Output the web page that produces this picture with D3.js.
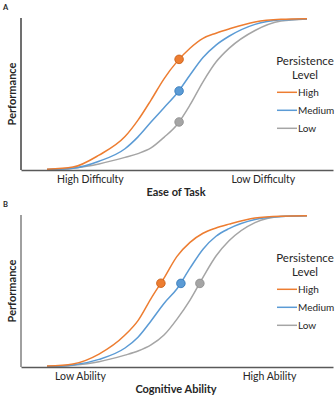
<!DOCTYPE html>
<html>
<head>
<meta charset="utf-8">
<script src="https://d3js.org/d3.v7.min.js"></script>
<style>
  body { margin: 0; background: #fff; }
  text { font-family: Lato, "Open Sans", sans-serif; fill: #262626; }
</style>
</head>
<body>
<div id="chart"></div>
<script>
// shared x positions (arbitrary units along the x axis, 0-120)
const xs = [10, 20, 30, 40, 45, 50, 55, 60, 65, 70, 75, 80, 90, 100, 110];

// Panel A - Ease of Task
const aHigh   = [0.5, 1.9, 9.8, 22, 32.8, 46, 60, 71.3, 80.1, 86.6, 90, 92.8, 97.4, 99.1, 99.5];
const aMedium = [0.3, 1.2, 5.8, 14, 21.8, 31.5, 41, 50.5, 62.5, 74, 82.2, 88, 95.8, 98.8, 99.4];
const aLow    = [0.3, 1.2, 4, 8.3, 10.8, 14.5, 21.5, 29.8, 42.8, 58, 71, 80, 91.8, 98, 99.4];
const aMarkX  = [60.8, 60.8, 60.8];
const aMarkY  = [72.8, 52, 31.6];
const aTicks  = [26.5, 93];
const aTickLabels = ["High Difficulty", "Low Difficulty"];

// Panel B - Cognitive Ability
const bHigh   = [0.6, 2, 8.5, 21, 30.5, 45, 58.5, 72.8, 82, 88, 91.5, 94, 98, 99.2, 99.5];
const bMedium = [0.3, 1.3, 5, 12.5, 19.6, 30.3, 41.8, 51.5, 65, 77.5, 86, 91, 97, 99, 99.5];
const bLow    = [0.3, 1.2, 3.5, 7.8, 10.5, 14.5, 21, 31.5, 44, 59, 73, 83, 95, 99, 99.5];
const bMarkX  = [53.8, 61.5, 68.8];
const bMarkY  = [55.1, 55, 55];
const bTicks  = [22.7, 95.4];
const bTickLabels = ["Low Ability", "High Ability"];

const levels = ["High", "Medium", "Low"];
const colors = ["#ED7D31", "#5B9BD5", "#A5A5A5"];
const strokes = ["#C55A11", "#2E75B6", "#8C8C8C"];

const W = 336, H = 400;
const svg = d3.select("#chart").append("svg")
  .attr("width", W).attr("height", H);

function drawPanel(top, letter, series, markX, markY, ticks, tickLabels, xTitle, yAxisColor) {
  let g = svg.append("g").attr("transform", `translate(0, ${top})`);

  let x = d3.scaleLinear().domain([0, 120]).range([21, 333]);
  let y = d3.scaleLinear().domain([0, 100]).range([170, 18]);

  g.append("text")
    .attr("x", 3).attr("y", 10)
    .style("font-size", "7.5px").style("font-weight", "bold")
    .text(letter);

  let line = d3.line()
    .x((d, i) => x(xs[i]))
    .y(d => y(d))
    .curve(d3.curveMonotoneX);

  // draw low first so high sits on top
  for (let i = series.length - 1; i >= 0; i--) {
    g.append("path")
      .datum(series[i])
      .attr("d", line)
      .attr("fill", "none")
      .attr("stroke", colors[i])
      .attr("stroke-width", 1.5);
  }

  // x axis with the two category labels
  let xAxis = d3.axisBottom(x)
    .tickValues(ticks)
    .tickFormat((d, i) => tickLabels[i])
    .tickSize(0)
    .tickPadding(6)
    .tickSizeOuter(0);
  let xg = g.append("g").attr("transform", `translate(0, ${y(0)})`).call(xAxis);
  xg.select(".domain").attr("stroke", "#595959").attr("stroke-width", 1.5);
  xg.selectAll("text")
    .style("font-size", "10.5px")
    .style("font-family", "Lato, sans-serif")
    .attr("fill", "#262626");

  // y axis line only
  g.append("line")
    .attr("x1", x(0)).attr("x2", x(0))
    .attr("y1", y(100)).attr("y2", y(0))
    .attr("stroke", yAxisColor).attr("stroke-width", 1.5);

  g.append("text")
    .attr("x", 176).attr("y", 196)
    .attr("text-anchor", "middle")
    .style("font-size", "11px").style("font-weight", "bold")
    .text(xTitle);

  g.append("text")
    .attr("transform", "translate(16, 94) rotate(-90)")
    .attr("text-anchor", "middle")
    .style("font-size", "11px").style("font-weight", "bold")
    .text("Performance");

  // markers
  g.selectAll("circle.mark")
    .data(markX)
    .enter().append("circle")
    .attr("class", "mark")
    .attr("cx", d => x(d))
    .attr("cy", (d, i) => y(markY[i]))
    .attr("r", 4.3)
    .attr("fill", (d, i) => colors[i])
    .attr("stroke", (d, i) => strokes[i])
    .attr("stroke-width", 0.8);

  // legend
  let lg = g.append("g");
  lg.append("text").attr("x", 305).attr("y", 64.5)
    .attr("text-anchor", "middle").style("font-size", "11.5px")
    .text("Persistence");
  lg.append("text").attr("x", 305).attr("y", 79)
    .attr("text-anchor", "middle").style("font-size", "11.5px")
    .text("Level");
  levels.forEach((lv, i) => {
    let ly = 92.3 + i * 18;
    lg.append("line")
      .attr("x1", 277).attr("x2", 297)
      .attr("y1", ly).attr("y2", ly)
      .attr("stroke", colors[i]).attr("stroke-width", 1.5);
    lg.append("text")
      .attr("x", 298).attr("y", ly)
      .attr("dy", "0.35em")
      .style("font-size", "10px")
      .attr("fill", "#404040")
      .text(lv);
  });
}

drawPanel(0, "A", [aHigh, aMedium, aLow], aMarkX, aMarkY, aTicks, aTickLabels, "Ease of Task", "#404040");
drawPanel(197, "B", [bHigh, bMedium, bLow], bMarkX, bMarkY, bTicks, bTickLabels, "Cognitive Ability", "#808080");
</script>
</body>
</html>
